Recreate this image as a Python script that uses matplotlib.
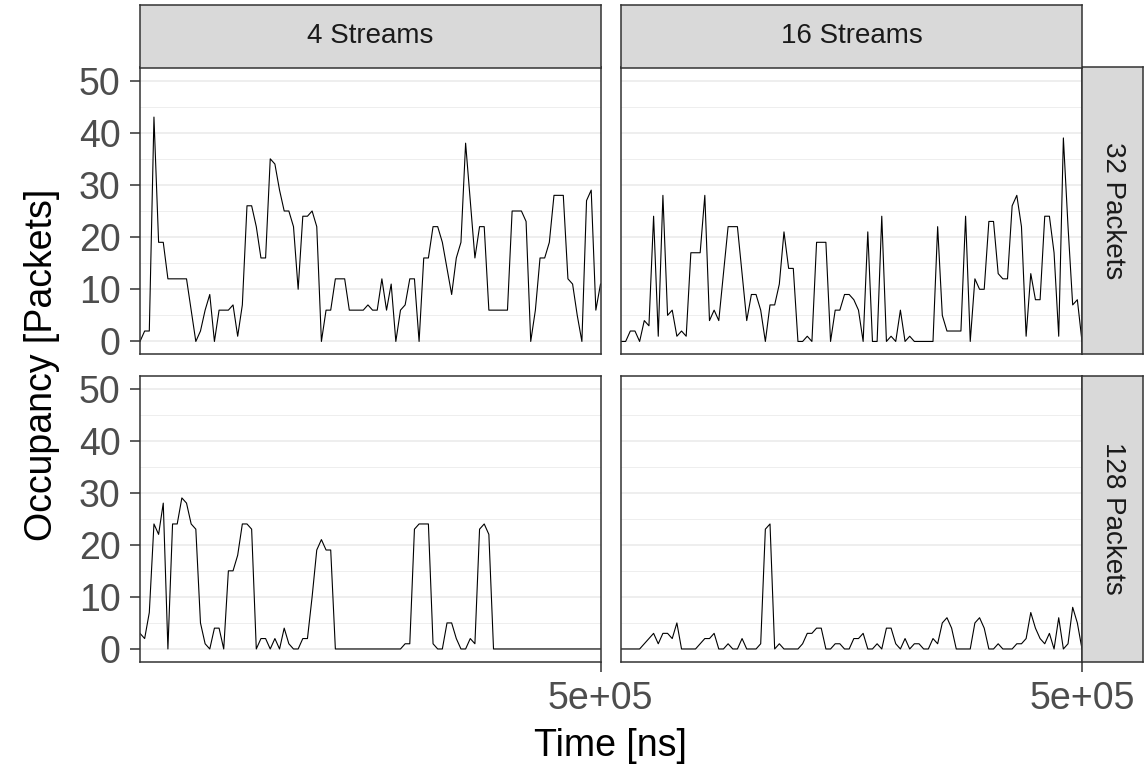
import matplotlib.pyplot as plt
import numpy as np

plt.rcParams['font.family'] = ['Liberation Sans', 'DejaVu Sans']

streams = ["4 Streams", "16 Streams"]
buffers = ["32 Packets", "128 Packets"]

# sampled buffer occupancy, one value per 5 us step
time_ns = np.linspace(0, 5e5, 100)

occ_4s_32p = [0, 2, 2, 43, 19, 19, 12, 12, 12, 12,
              12, 6, 0, 2, 6, 9, 0, 6, 6, 6,
              7, 1, 7, 26, 26, 22, 16, 16, 35, 34,
              29, 25, 25, 22, 10, 24, 24, 25, 22, 0,
              6, 6, 12, 12, 12, 6, 6, 6, 6, 7,
              6, 6, 12, 6, 11, 0, 6, 7, 12, 12,
              0, 16, 16, 22, 22, 19, 14, 9, 16, 19,
              38, 27, 16, 22, 22, 6, 6, 6, 6, 6,
              25, 25, 25, 23, 0, 6, 16, 16, 19, 28,
              28, 28, 12, 11, 5, 0, 27, 29, 6, 11]

occ_16s_32p = [0, 0, 2, 2, 0, 4, 3, 24, 1, 28,
               5, 6, 1, 2, 1, 17, 17, 17, 28, 4,
               6, 4, 13, 22, 22, 22, 13, 4, 9, 9,
               6, 0, 7, 7, 11, 21, 14, 14, 0, 0,
               1, 0, 19, 19, 19, 0, 6, 6, 9, 9,
               8, 6, 0, 21, 0, 0, 24, 0, 1, 0,
               6, 0, 1, 0, 0, 0, 0, 0, 22, 5,
               2, 2, 2, 2, 24, 0, 12, 10, 10, 23,
               23, 13, 12, 12, 26, 28, 22, 1, 13, 8,
               8, 24, 24, 17, 1, 39, 22, 7, 8, 0]

occ_4s_128p = [3, 2, 7, 24, 22, 28, 0, 24, 24, 29,
               28, 24, 23, 5, 1, 0, 4, 4, 0, 15,
               15, 18, 24, 24, 23, 0, 2, 2, 0, 2,
               0, 4, 1, 0, 0, 2, 2, 10, 19, 21,
               19, 19, 0, 0, 0, 0, 0, 0, 0, 0,
               0, 0, 0, 0, 0, 0, 0, 1, 1, 23,
               24, 24, 24, 1, 0, 0, 5, 5, 2, 0,
               0, 2, 1, 23, 24, 22, 0, 0, 0, 0,
               0, 0, 0, 0, 0, 0, 0, 0, 0, 0,
               0, 0, 0, 0, 0, 0, 0, 0, 0, 0]

occ_16s_128p = [0, 0, 0, 0, 0, 1, 2, 3, 1, 3,
                3, 2, 5, 0, 0, 0, 0, 1, 2, 2,
                3, 0, 0, 1, 0, 0, 2, 0, 0, 0,
                1, 23, 24, 0, 1, 0, 0, 0, 0, 1,
                3, 3, 4, 4, 0, 0, 1, 1, 0, 0,
                2, 2, 3, 0, 0, 1, 0, 4, 4, 1,
                0, 2, 0, 1, 1, 0, 0, 2, 1, 5,
                6, 4, 0, 0, 0, 0, 5, 6, 4, 0,
                0, 1, 0, 0, 0, 1, 1, 2, 7, 4,
                2, 1, 3, 0, 6, 0, 1, 8, 5, 0]

panels = [[occ_4s_32p, occ_16s_32p],
          [occ_4s_128p, occ_16s_128p]]

W, H = 1144, 771
fig = plt.figure(figsize=(W / 100, H / 100), dpi=100)

def box(x0, y0, x1, y1):
    # pixel box (top-left origin) -> figure fraction rect
    return [x0 / W, 1 - y1 / H, (x1 - x0) / W, (y1 - y0) / H]

col_x = [(140, 600.5), (621, 1082)]
row_y = [(67.5, 354.5), (375.5, 662)]
dark = '#333333'

for r in range(2):
    for c in range(2):
        x0, x1 = col_x[c]
        y0, y1 = row_y[r]
        ax = fig.add_axes(box(x0, y0, x1, y1))
        ax.plot(time_ns, panels[r][c], color='black', lw=0.8)
        ax.set_xlim(0, 5e5)
        ax.set_ylim(-2.5, 52.5)
        ax.set_yticks([0, 10, 20, 30, 40, 50])
        ax.set_yticks([5, 15, 25, 35, 45], minor=True)
        ax.set_xticks([5e5])
        ax.set_xticklabels(['5e+05'])
        ax.grid(True, which='major', axis='y', color='#EBEBEB', lw=1.2)
        ax.grid(True, which='minor', axis='y', color='#EBEBEB', lw=0.6)
        ax.set_axisbelow(True)
        for s in ax.spines.values():
            s.set_color(dark)
            s.set_linewidth(1.1)
        ax.tick_params(which='major', length=7, width=1.1, color=dark,
                       labelsize=27, labelcolor='#4D4D4D', pad=7)
        ax.tick_params(which='minor', length=0)
        if c != 0:
            ax.tick_params(axis='y', left=False, labelleft=False)
        if r != 1:
            ax.tick_params(axis='x', bottom=False, labelbottom=False)

    # right-hand strip
    y0, y1 = row_y[r]
    sx = fig.add_axes(box(1082, y0, 1143, y1))
    sx.set_facecolor('#D9D9D9')
    sx.set_xticks([])
    sx.set_yticks([])
    for s in sx.spines.values():
        s.set_color(dark)
        s.set_linewidth(1.1)
    sx.text(0.5, 0.5, buffers[r], rotation=-90, ha='center', va='center',
            fontsize=20, color='#1A1A1A', transform=sx.transAxes)

for c in range(2):
    x0, x1 = col_x[c]
    st = fig.add_axes(box(x0, 5, x1, 67.5))
    st.set_facecolor('#D9D9D9')
    st.set_xticks([])
    st.set_yticks([])
    for s in st.spines.values():
        s.set_color(dark)
        s.set_linewidth(1.1)
    st.text(0.5, 0.5, streams[c], ha='center', va='center',
            fontsize=20, color='#1A1A1A', transform=st.transAxes)

fig.text(610 / W, 1 - 746 / H, 'Time [ns]', ha='center', va='center',
         fontsize=27, color='black')
fig.text(42 / W, 1 - 365 / H, 'Occupancy [Packets]', ha='center',
         va='center', rotation=90, fontsize=27, color='black')

fig.savefig('out.png', dpi=100)
